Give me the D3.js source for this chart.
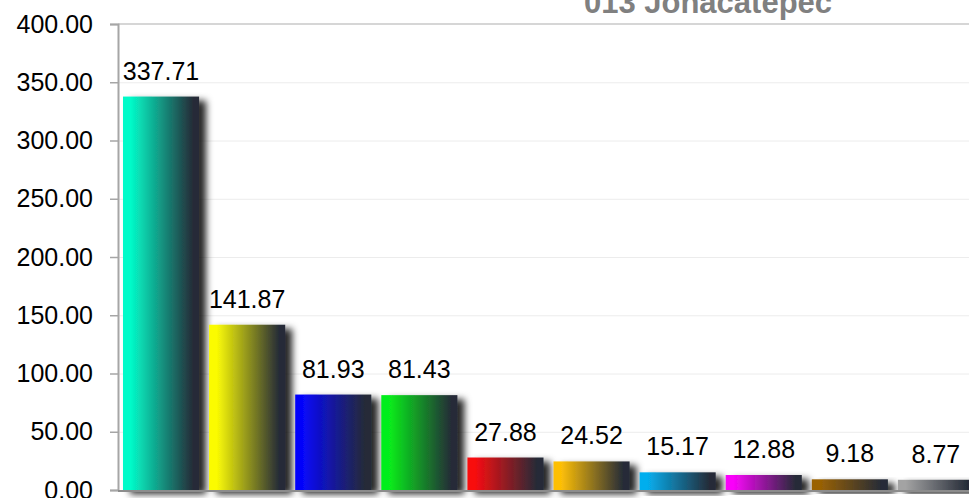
<!DOCTYPE html>
<html>
<head>
<meta charset="utf-8">
<script src="https://cdn.jsdelivr.net/npm/d3@7"></script>
<style>
  body { margin: 0; background: #fff; overflow: hidden; }
  svg { display: block; font-family: "Liberation Sans", Arial, sans-serif; }
</style>
</head>
<body>
<script>
// chart data
var title = "013 Jonacatepec";
var categories = ["c1", "c2", "c3", "c4", "c5", "c6", "c7", "c8", "c9", "c10"];
var values = [337.71, 141.87, 81.93, 81.43, 27.88, 24.52, 15.17, 12.88, 9.18, 8.77];
var colors = ["#03fbc9", "#fbfb04", "#0606fb", "#06ee1a", "#f80d10", "#fdbf06", "#05aeee", "#fa04fa", "#9a6204", "#a3a3a3"];
var yTicks = [0, 50, 100, 150, 200, 250, 300, 350, 400];

var width = 969, height = 498;
var plotLeft = 118, plotRight = 979, plotTop = 24, plotBottom = 490;

var svg = d3.select("body").append("svg")
    .attr("width", width)
    .attr("height", height);

var defs = svg.append("defs");

// drop shadow for bars
var f = defs.append("filter").attr("id", "shadow")
    .attr("x", "-20%").attr("y", "-20%").attr("width", "150%").attr("height", "150%");
f.append("feDropShadow")
    .attr("dx", 7).attr("dy", 4)
    .attr("stdDeviation", 3.5)
    .attr("flood-color", "#000")
    .attr("flood-opacity", 0.85);

// gradients: bright colour on the left fading to dark slate on the right
colors.forEach(function(c, i){
    var g = defs.append("linearGradient").attr("id", "grad" + i)
        .attr("x1", "0%").attr("x2", "100%").attr("y1", "0%").attr("y2", "0%");
    g.append("stop").attr("offset", "10%").attr("stop-color", c);
    g.append("stop").attr("offset", "92%").attr("stop-color", "#252b37");
});

var x = d3.scaleBand()
    .domain(categories)
    .range([plotLeft, plotRight])
    .paddingInner(0.116)
    .paddingOuter(0.058);

var y = d3.scaleLinear()
    .domain([0, 400])
    .range([plotBottom, plotTop]);

// gridlines
svg.append("g")
    .selectAll("line")
    .data(yTicks.filter(function(d){ return d > 0 && d < 400; }))
    .enter()
    .append("line")
    .attr("x1", plotLeft).attr("x2", width)
    .attr("y1", function(d){ return y(d) + 0.5; })
    .attr("y2", function(d){ return y(d) + 0.5; })
    .attr("stroke", "#ececec")
    .attr("stroke-width", 1);

// top border line
svg.append("line")
    .attr("x1", plotLeft).attr("x2", width)
    .attr("y1", y(400)).attr("y2", y(400))
    .attr("stroke", "#d6d6d6")
    .attr("stroke-width", 2);

// y axis
var yAxis = svg.append("g")
    .attr("transform", "translate(" + plotLeft + ",0)")
    .call(d3.axisLeft(y).tickValues(yTicks).tickFormat(d3.format(".2f")).tickSize(8).tickPadding(17));
yAxis.select(".domain").attr("stroke", "#a6a6a6").attr("stroke-width", 2);
yAxis.selectAll(".tick line").attr("stroke", "#a6a6a6").attr("stroke-width", 1.5);
yAxis.selectAll(".tick text")
    .attr("fill", "#000")
    .style("font-size", "25px")
    .style("font-family", "Liberation Sans, Arial, sans-serif");

// bars
svg.append("g")
    .selectAll("rect")
    .data(values)
    .enter()
    .append("rect")
    .attr("x", function(d, i){ return x(categories[i]); })
    .attr("y", function(d){ return y(d); })
    .attr("width", x.bandwidth())
    .attr("height", function(d){ return y(0) - y(d); })
    .attr("fill", function(d, i){ return "url(#grad" + i + ")"; })
    .attr("filter", "url(#shadow)");

// x axis baseline
svg.append("line")
    .attr("x1", plotLeft).attr("x2", width)
    .attr("y1", plotBottom + 1).attr("y2", plotBottom + 1)
    .attr("stroke", "#8c8c8c")
    .attr("stroke-width", 2);

// value labels
svg.append("g")
    .selectAll("text")
    .data(values)
    .enter()
    .append("text")
    .attr("x", function(d, i){ return x(categories[i]) + x.bandwidth() / 2; })
    .attr("y", function(d){ return y(d) - 17; })
    .attr("text-anchor", "middle")
    .style("font-size", "25px")
    .attr("fill", "#000")
    .text(function(d){ return d3.format(".2f")(d); });

// title (partly clipped at the top, as in the original)
svg.append("text")
    .attr("x", 708)
    .attr("y", 13)
    .attr("text-anchor", "middle")
    .style("font-size", "31px")
    .style("font-weight", "bold")
    .attr("fill", "#808080")
    .text(title);
</script>
</body>
</html>
